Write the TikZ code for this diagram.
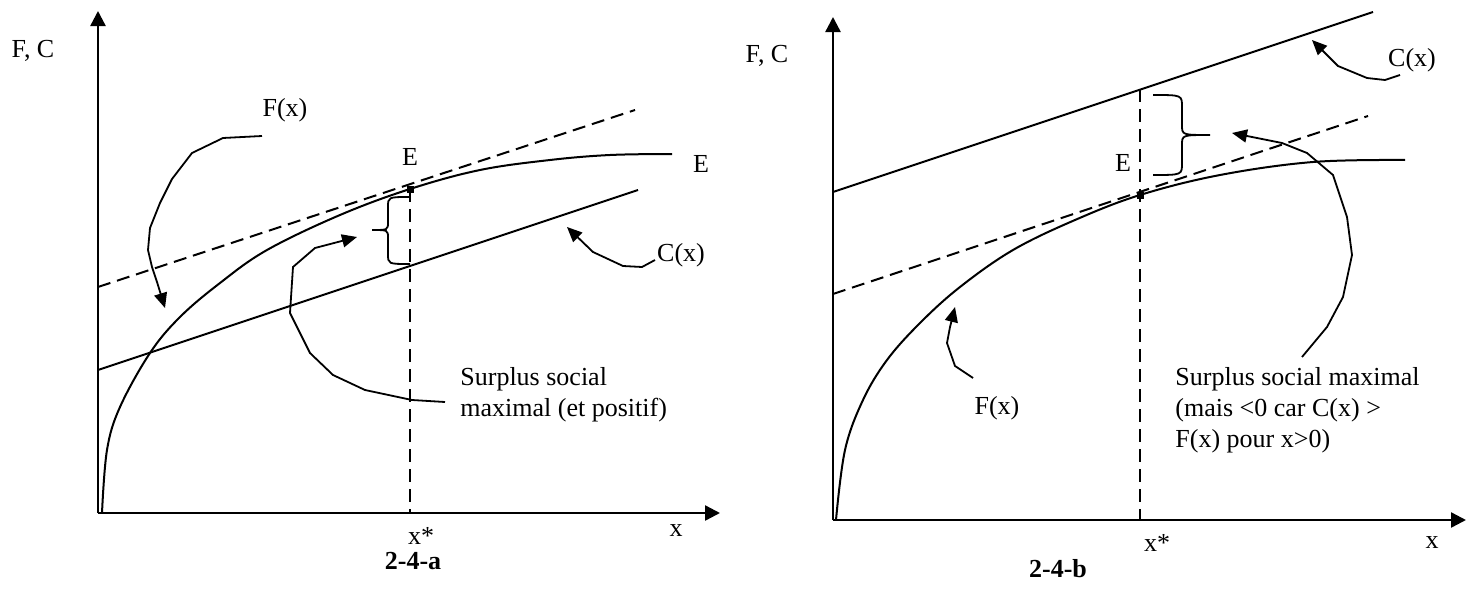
\documentclass[tikz,border=0pt]{standalone}
\usepackage{fontspec}
\setmainfont{Liberation Serif}
\usetikzlibrary{arrows.meta}
\begin{document}
\begin{tikzpicture}[x=0.5pt,y=-0.5pt,
  lbl/.style={font=\fontsize{13}{15.5}\selectfont, inner sep=0pt},
  bold/.style={font=\fontsize{13}{15.5}\selectfont\bfseries, inner sep=0pt},
  axis/.style={line width=1.2pt, -{Triangle[length=7.5pt,width=7.5pt]}},
  curve/.style={line width=1pt},
  tang/.style={line width=1pt, dash pattern=on 6.5pt off 3.5pt},
  ptr/.style={line width=0.9pt, -{Triangle[length=7.5pt,width=6.5pt]}},
  brc/.style={line width=0.9pt},
  dot/.style={fill=black, minimum size=3.5pt, inner sep=0pt, rectangle}]
\useasboundingbox (0,0) rectangle (1473,589);

% ---------------- Panel a ----------------
\coordinate (aO) at (98,513);
\coordinate (aY) at (98,11);
\coordinate (aX) at (720,513);
\draw[axis] (aO) -- (aY);
\draw[axis] (aO) -- (aX);
\node[lbl] (aFC) at (33,51) {F, C};
\node[lbl] (ax) at (676,531) {x};
\node[lbl] (axs) at (421,536) {x*};
\node[bold] (acap) at (413,561) {2-4-a};

% F curve
\draw[curve] plot[smooth, tension=0.6] coordinates {(102,513) (107,450) (120,407) (150,353) (180,317) (220,283) (267,250) (340,215) (410,189) (480,170) (550,160) (610,155) (672,154)};
% tangent
\coordinate (aT1) at (98,287);
\coordinate (aT2) at (635,110);
\draw[tang] (aT1) -- (aT2);
% C line
\coordinate (aC1) at (98,370);
\coordinate (aC2) at (638,190);
\draw[curve] (aC1) -- (aC2);
% vertical
\node[dot] (aE) at (410,189) {};
\coordinate (aV) at (410,513);
\draw[tang] (aE.center) -- (aV);
\node[lbl] (aElbl) at (410,157) {E};
\node[lbl] (aE2) at (701,164) {E};
% brace
\draw[brc] (410,197) .. controls (388,197) .. (388,207) -- (388,222) .. controls (388,230) .. (372,230)
  .. controls (388,230) .. (388,238) -- (388,254) .. controls (388,264) .. (410,264);
% labels
\node[lbl] (aFx) at (285,110) {F(x)};
\node[lbl] (aCx) at (681,255) {C(x)};
\node[lbl, align=left, anchor=west] (aS) at (460,395) {Surplus social\\maximal (et positif)};
% pointers
\draw[ptr] (262,136) -- (223,138) -- (192,153) -- (172,179) -- (160,203) -- (150,228) -- (148,250) -- (152,267) -- (157,282) -- (165,308);
\draw[ptr] (655,260) -- (642,267) -- (623,266) -- (593,252) -- (567,227);
\draw[ptr] (445,402) -- (412,400) -- (365,390) -- (333,375) -- (310,353) -- (290,313) -- (293,267) -- (315,248) -- (357,237);

% ---------------- Panel b ----------------
\coordinate (bO) at (833,520);
\coordinate (bY) at (833,17);
\coordinate (bX) at (1466,520);
\draw[axis] (bO) -- (bY);
\draw[axis] (bO) -- (bX);
\node[lbl] (bFC) at (767,56) {F, C};
\node[lbl] (bx) at (1432,543) {x};
\node[lbl] (bxs) at (1157,543) {x*};
\node[bold] (bcap) at (1058,569) {2-4-b};

\draw[curve] plot[smooth, tension=0.6] coordinates {(836,520) (845,450) (863,400) (887,360) (920,323) (960,287) (1013,250) (1075,220) (1140,195) (1220,175) (1313,162) (1405,160)};
\coordinate (bT1) at (833,294);
\coordinate (bT2) at (1368,116);
\draw[tang] (bT1) -- (bT2);
\coordinate (bC1) at (833,192);
\coordinate (bC2) at (1373,12);
\draw[curve] (bC1) -- (bC2);
\node[dot] (bE) at (1140,195) {};
\coordinate (bVt) at (1140,89);
\coordinate (bV) at (1140,520);
\draw[tang] (bVt) -- (bV);
\node[lbl] (bElbl) at (1123,163) {E};
\draw[brc] (1153,95) .. controls (1182,95) .. (1182,107) -- (1182,125) .. controls (1182,135) .. (1210,135)
  .. controls (1182,135) .. (1182,145) -- (1182,163) .. controls (1182,175) .. (1153,175);
\node[lbl] (bFx) at (997,408) {F(x)};
\node[lbl] (bCx) at (1412,60) {C(x)};
\node[lbl, align=left, anchor=west] (bS) at (1175,410) {Surplus social maximal\\(mais <0 car C(x) >\\F(x) pour x>0)};
\draw[ptr] (973,378) -- (955,366) -- (947,343) -- (950,327) -- (955,307);
\draw[ptr] (1400,75) -- (1385,80) -- (1367,78) -- (1338,66) -- (1312,40);
\draw[ptr] (1302,357) -- (1327,327) -- (1343,297) -- (1352,255) -- (1347,217) -- (1333,175) -- (1307,153) -- (1282,143) -- (1232,133);
\end{tikzpicture}
\end{document}
